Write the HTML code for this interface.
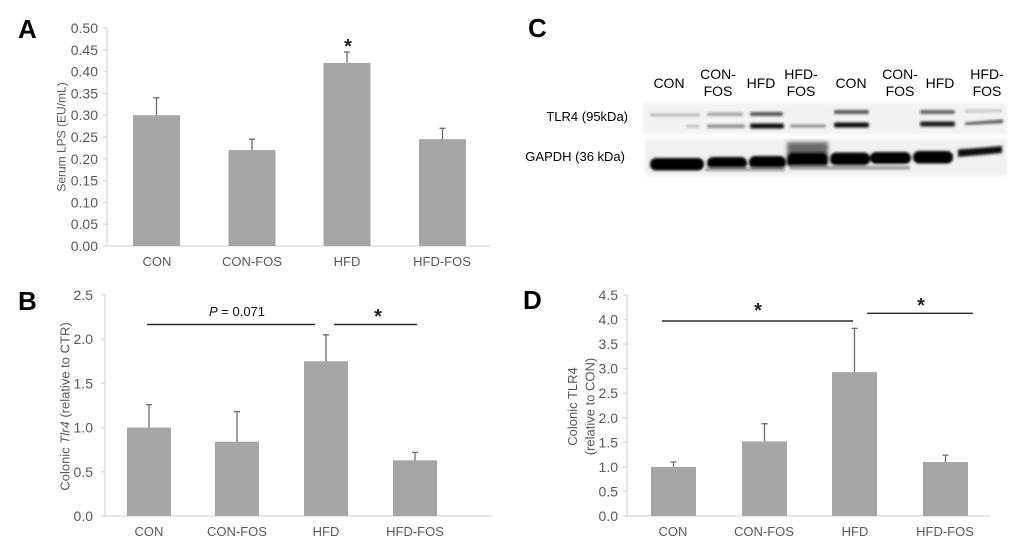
<!DOCTYPE html>
<html><head><meta charset="utf-8"><style>
html,body{margin:0;padding:0;background:#fff;}
svg{display:block;font-family:"Liberation Sans",Arial,sans-serif;}
.tk{font-size:14px;fill:#595959;text-anchor:end;}
.xl{font-size:13px;fill:#595959;text-anchor:middle;}
.bar{fill:#a6a6a6;}
.ax{stroke:#d9d9d9;stroke-width:1.3;fill:none;}
.eb{stroke:#6e6e6e;stroke-width:1.3;fill:none;}
.sig{stroke:#2a2a2a;stroke-width:1.4;}
.pl{font-size:26px;font-weight:bold;fill:#000;}
.st{font-size:20px;font-weight:bold;fill:#222;text-anchor:middle;}
.ln{font-size:14px;fill:#000;text-anchor:middle;}
</style></head><body>
<svg width="1019" height="547" viewBox="0 0 1019 547" xmlns="http://www.w3.org/2000/svg">
<defs>
<filter id="bl" x="-20%" y="-50%" width="140%" height="200%"><feGaussianBlur stdDeviation="1.2"/></filter>
<filter id="bl2" x="-20%" y="-50%" width="140%" height="200%"><feGaussianBlur stdDeviation="1.6"/></filter>
</defs>

<text class="pl" x="18" y="38">A</text>
<text class="pl" x="18" y="310">B</text>
<text class="pl" x="528" y="37">C</text>
<text class="pl" x="523" y="309">D</text>

<!-- Panel A -->
<g>
<line class="ax" x1="107" y1="28" x2="107" y2="246"/>
<line class="ax" x1="107" y1="246" x2="490" y2="246"/>
<g class="ax">
<line x1="103" y1="28" x2="107" y2="28"/><line x1="103" y1="49.8" x2="107" y2="49.8"/>
<line x1="103" y1="71.6" x2="107" y2="71.6"/><line x1="103" y1="93.4" x2="107" y2="93.4"/>
<line x1="103" y1="115.2" x2="107" y2="115.2"/><line x1="103" y1="137" x2="107" y2="137"/>
<line x1="103" y1="158.8" x2="107" y2="158.8"/><line x1="103" y1="180.6" x2="107" y2="180.6"/>
<line x1="103" y1="202.4" x2="107" y2="202.4"/><line x1="103" y1="224.2" x2="107" y2="224.2"/>
<line x1="103" y1="246" x2="107" y2="246"/>
</g>
<text class="tk" x="98" y="33">0.50</text>
<text class="tk" x="98" y="54.8">0.45</text>
<text class="tk" x="98" y="76.6">0.40</text>
<text class="tk" x="98" y="98.4">0.35</text>
<text class="tk" x="98" y="120.2">0.30</text>
<text class="tk" x="98" y="142">0.25</text>
<text class="tk" x="98" y="163.8">0.20</text>
<text class="tk" x="98" y="185.6">0.15</text>
<text class="tk" x="98" y="207.4">0.10</text>
<text class="tk" x="98" y="229.2">0.05</text>
<text class="tk" x="98" y="251">0.00</text>
<text transform="translate(65.5,137) rotate(-90)" style="font-size:12px;fill:#595959;text-anchor:middle">Serum LPS (EU/mL)</text>
<rect class="bar" x="133" y="115.2" width="47" height="130.8"/>
<rect class="bar" x="228.5" y="150.1" width="47" height="95.9"/>
<rect class="bar" x="323.5" y="62.9" width="47" height="183.1"/>
<rect class="bar" x="419" y="139.2" width="47" height="106.8"/>
<path class="eb" d="M156.5 115.2V97.8M153.5 97.8H159.5"/>
<path class="eb" d="M252 150.1V139.2M249 139.2H255"/>
<path class="eb" d="M347 62.9V52M344 52H350"/>
<path class="eb" d="M442.5 139.2V128.3M439.5 128.3H445.5"/>
<text class="st" x="348" y="53">*</text>
<text class="xl" x="157" y="266">CON</text>
<text class="xl" x="252" y="266">CON-FOS</text>
<text class="xl" x="347" y="266">HFD</text>
<text class="xl" x="442" y="266">HFD-FOS</text>
</g>

<!-- Panel B -->
<g>
<line class="ax" x1="105" y1="295" x2="105" y2="516"/>
<line class="ax" x1="105" y1="516" x2="492" y2="516"/>
<g class="ax">
<line x1="101" y1="295" x2="105" y2="295"/><line x1="101" y1="339.2" x2="105" y2="339.2"/>
<line x1="101" y1="383.4" x2="105" y2="383.4"/><line x1="101" y1="427.6" x2="105" y2="427.6"/>
<line x1="101" y1="471.8" x2="105" y2="471.8"/><line x1="101" y1="516" x2="105" y2="516"/>
</g>
<text class="tk" x="93" y="300">2.5</text>
<text class="tk" x="93" y="344.2">2.0</text>
<text class="tk" x="93" y="388.4">1.5</text>
<text class="tk" x="93" y="432.6">1.0</text>
<text class="tk" x="93" y="476.8">0.5</text>
<text class="tk" x="93" y="521">0.0</text>
<text transform="translate(69.5,406.5) rotate(-90)" style="font-size:13px;fill:#595959;text-anchor:middle">Colonic  <tspan font-style="italic">Tlr4</tspan> (relative to CTR)</text>
<rect class="bar" x="127" y="427.6" width="44" height="88.4"/>
<rect class="bar" x="215" y="441.7" width="44" height="74.3"/>
<rect class="bar" x="304" y="361.3" width="44" height="154.7"/>
<rect class="bar" x="393" y="460.3" width="44" height="55.7"/>
<path class="eb" d="M149 427.6V404.6M146 404.6H152"/>
<path class="eb" d="M237 441.7V411.7M234 411.7H240"/>
<path class="eb" d="M326 361.3V334.8M323 334.8H329"/>
<path class="eb" d="M415 460.3V452.4M412 452.4H418"/>
<line class="sig" x1="147" y1="324.5" x2="315" y2="324.5"/>
<line class="sig" x1="334" y1="324.5" x2="417" y2="324.5"/>
<text x="237" y="316" style="font-size:13px;fill:#111;text-anchor:middle"><tspan font-style="italic">P</tspan> = 0.071</text>
<text class="st" x="378" y="323">*</text>
<text class="xl" x="149" y="536">CON</text>
<text class="xl" x="237" y="536">CON-FOS</text>
<text class="xl" x="326" y="536">HFD</text>
<text class="xl" x="415" y="536">HFD-FOS</text>
</g>

<!-- Panel D -->
<g>
<line class="ax" x1="627" y1="295" x2="627" y2="516"/>
<line class="ax" x1="627" y1="516" x2="990" y2="516"/>
<g class="ax">
<line x1="623" y1="295" x2="627" y2="295"/><line x1="623" y1="319.6" x2="627" y2="319.6"/>
<line x1="623" y1="344.1" x2="627" y2="344.1"/><line x1="623" y1="368.7" x2="627" y2="368.7"/>
<line x1="623" y1="393.2" x2="627" y2="393.2"/><line x1="623" y1="417.8" x2="627" y2="417.8"/>
<line x1="623" y1="442.3" x2="627" y2="442.3"/><line x1="623" y1="466.9" x2="627" y2="466.9"/>
<line x1="623" y1="491.4" x2="627" y2="491.4"/><line x1="623" y1="516" x2="627" y2="516"/>
</g>
<text class="tk" x="618" y="300">4.5</text>
<text class="tk" x="618" y="324.6">4.0</text>
<text class="tk" x="618" y="349.1">3.5</text>
<text class="tk" x="618" y="373.7">3.0</text>
<text class="tk" x="618" y="398.2">2.5</text>
<text class="tk" x="618" y="422.8">2.0</text>
<text class="tk" x="618" y="447.3">1.5</text>
<text class="tk" x="618" y="471.9">1.0</text>
<text class="tk" x="618" y="496.4">0.5</text>
<text class="tk" x="618" y="521">0.0</text>
<text transform="translate(577,406.5) rotate(-90)" style="font-size:13px;fill:#595959;text-anchor:middle">Colonic TLR4</text>
<text transform="translate(594.5,406.5) rotate(-90)" style="font-size:13px;fill:#595959;text-anchor:middle">(relative to CON)</text>
<rect class="bar" x="651" y="466.9" width="45" height="49.1"/>
<rect class="bar" x="742" y="441.4" width="45" height="74.6"/>
<rect class="bar" x="832" y="372.1" width="45" height="143.9"/>
<rect class="bar" x="923" y="462" width="45" height="54"/>
<path class="eb" d="M673.5 466.9V462M670.5 462H676.5"/>
<path class="eb" d="M764.5 441.4V423.7M761.5 423.7H767.5"/>
<path class="eb" d="M854.5 372.1V328.4M851.5 328.4H857.5"/>
<path class="eb" d="M945.5 462V455.1M942.5 455.1H948.5"/>
<line class="sig" x1="662" y1="321" x2="853" y2="321"/>
<line class="sig" x1="867" y1="313.3" x2="973" y2="313.3"/>
<text class="st" x="758" y="317">*</text>
<text class="st" x="921" y="312">*</text>
<text class="xl" x="673" y="536">CON</text>
<text class="xl" x="764" y="536">CON-FOS</text>
<text class="xl" x="855" y="536">HFD</text>
<text class="xl" x="945" y="536">HFD-FOS</text>
</g>

<!-- Panel C -->
<g>
<text class="ln" x="669" y="88">CON</text>
<text class="ln" x="718" y="79">CON-</text><text class="ln" x="718" y="96">FOS</text>
<text class="ln" x="761" y="88">HFD</text>
<text class="ln" x="801" y="79">HFD-</text><text class="ln" x="801" y="96">FOS</text>
<text class="ln" x="851" y="88">CON</text>
<text class="ln" x="900" y="79">CON-</text><text class="ln" x="900" y="96">FOS</text>
<text class="ln" x="940" y="88">HFD</text>
<text class="ln" x="987" y="79">HFD-</text><text class="ln" x="987" y="96">FOS</text>

<text x="628" y="121" style="font-size:13px;fill:#000;text-anchor:end">TLR4 (95kDa)</text>
<text x="625" y="161" style="font-size:13px;fill:#000;text-anchor:end">GAPDH (36 kDa)</text>

<rect x="643" y="103" width="364" height="31" fill="#f3f3f3" filter="url(#bl2)"/>
<rect x="645" y="139" width="362" height="37" fill="#f1f1f1" filter="url(#bl2)"/>
<line x1="645.5" y1="105" x2="645.5" y2="129" stroke="#333" stroke-width="1.5" filter="url(#bl)"/>

<g filter="url(#bl)">
<rect x="650" y="113.5" width="50" height="3" rx="1.5" fill="#b5b5b5"/>
<rect x="686" y="125" width="14" height="2.5" rx="1.2" fill="#bbb"/>
<rect x="707" y="112.5" width="36" height="3.5" rx="1.5" fill="#a5a5a5"/>
<rect x="707" y="124.5" width="38" height="3.5" rx="1.5" fill="#8a8a8a"/>
<rect x="750" y="112" width="33" height="4" rx="1.8" fill="#555"/>
<rect x="750" y="123.5" width="34" height="5" rx="2" fill="#111"/>
<rect x="790" y="124.5" width="36" height="3" rx="1.5" fill="#8f8f8f"/>
<rect x="834" y="110" width="35" height="4" rx="1.8" fill="#555"/>
<rect x="834" y="122.5" width="35" height="5" rx="2" fill="#111"/>
<rect x="920" y="110" width="35" height="4" rx="1.8" fill="#666"/>
<rect x="920" y="121.5" width="35" height="5" rx="2" fill="#1a1a1a"/>
<rect x="965" y="109.5" width="37" height="3" rx="1.5" fill="#c5c5c5"/>
<path d="M965 122.5 L1003 119.5 L1003 123 L965 125 Z" fill="#555"/>
</g>

<g filter="url(#bl)">
<rect x="787" y="142" width="41" height="22" fill="#6a6a6a" filter="url(#bl2)"/>
<rect x="650" y="158" width="54" height="12.5" rx="6" fill="#050505"/>
<rect x="707" y="157" width="40" height="12.5" rx="6" fill="#050505"/>
<rect x="749" y="156" width="37" height="13" rx="6" fill="#050505"/>
<rect x="787" y="152" width="41" height="16" rx="6" fill="#050505"/>
<rect x="830" y="152.5" width="40" height="13" rx="6" fill="#050505"/>
<rect x="870" y="152" width="41" height="12" rx="6" fill="#050505"/>
<rect x="913" y="151" width="40" height="12.5" rx="6" fill="#050505"/>
<path d="M958 149.5 Q980 148 1002 146 L1002 153 Q980 155 958 157 Z" fill="#0a0a0a"/>
<rect x="705" y="168" width="80" height="3" fill="#9a9a9a"/>
<rect x="790" y="166" width="120" height="3.5" fill="#9a9a9a"/>
</g>
</g>
</svg>
</body></html>
